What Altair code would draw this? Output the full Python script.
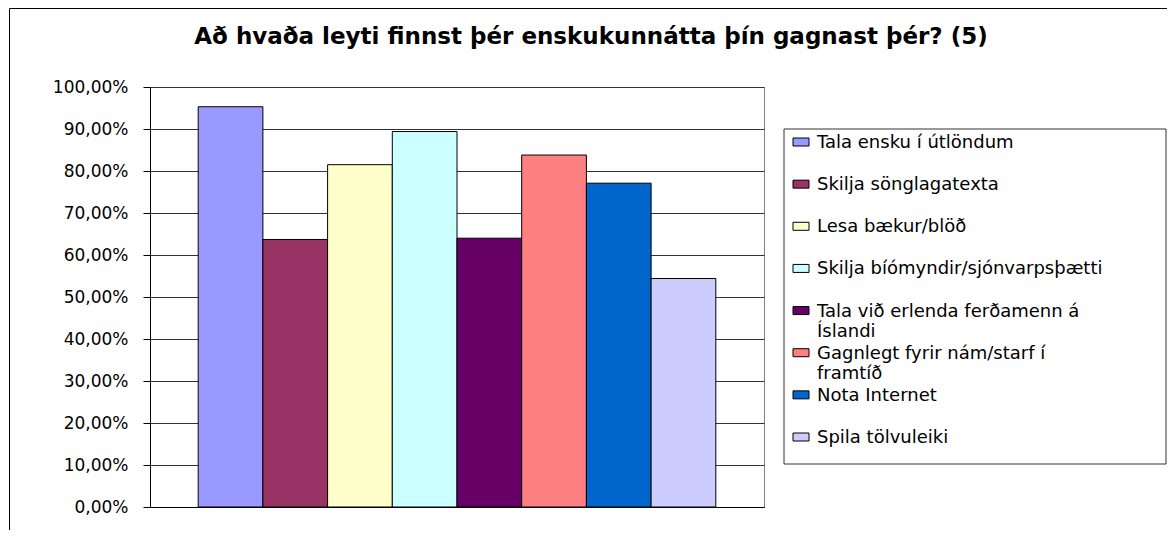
import altair as alt
import pandas as pd

title_text = "Að hvaða leyti finnst þér enskukunnátta þín gagnast þér? (5)"

categories = [
    "Tala ensku í útlöndum",
    "Skilja sönglagatexta",
    "Lesa bækur/blöð",
    "Skilja bíómyndir/sjónvarpsþætti",
    "Tala við erlenda ferðamenn á Íslandi",
    "Gagnlegt fyrir nám/starf í framtíð",
    "Nota Internet",
    "Spila tölvuleiki",
]
values = [0.953, 0.637, 0.815, 0.894, 0.640, 0.838, 0.771, 0.544]
legend_labels = [
    "Tala ensku í útlöndum",
    "Skilja sönglagatexta",
    "Lesa bækur/blöð",
    "Skilja bíómyndir/sjónvarpsþætti",
    "Tala við erlenda ferðamenn á\nÍslandi",
    "Gagnlegt fyrir nám/starf í\nframtíð",
    "Nota Internet",
    "Spila tölvuleiki",
]
colors = ["#9999FF", "#993366", "#FFFFCC", "#CCFFFF", "#660066", "#FF8080", "#0066CC", "#CCCCFF"]
y_ticks = [0.0, 0.1, 0.2, 0.3, 0.4, 0.5, 0.6, 0.7, 0.8, 0.9, 1.0]

df = pd.DataFrame({"cat": categories, "value": values})
leg_df = pd.DataFrame({"cat": categories, "label": legend_labels})
deco = pd.DataFrame({"t": [title_text]})

color_scale = alt.Scale(domain=categories, range=colors)

bars = alt.Chart(df).mark_bar(stroke="black", strokeWidth=1).encode(
    x=alt.X("cat:N", sort=categories,
            scale=alt.Scale(paddingInner=0, paddingOuter=0.745),
            axis=alt.Axis(title=None, labels=False, ticks=False, domainColor="black")),
    y=alt.Y("value:Q", scale=alt.Scale(domain=[0, 1], nice=False),
            axis=alt.Axis(values=y_ticks, title=None, tickSize=7, labelPadding=15,
                          labelExpr="replace(format(datum.value, '.2%'), '.', ',')",
                          labelFont="DejaVu Sans", labelFontSize=17, labelColor="black",
                          domainColor="black", tickColor="black",
                          grid=True, gridColor="#333333")),
    fill=alt.Fill("cat:N", scale=color_scale, legend=None),
)

ly = alt.Y("cat:N", sort=categories,
           scale=alt.Scale(type="point", domain=categories, range=[55, 350], padding=0),
           axis=None)

leg_box = alt.Chart(deco).mark_rect(fillOpacity=0, stroke="#333333", strokeWidth=1).encode(
    x=alt.value(634), x2=alt.value(1016), y=alt.value(42), y2=alt.value(377))

leg_sym = alt.Chart(leg_df).mark_point(
    shape="M-1,-0.5H1V0.5H-1Z", filled=True, size=256, stroke="black",
    strokeWidth=1, opacity=1).encode(
    x=alt.value(651), y=ly,
    fill=alt.Fill("cat:N", scale=color_scale, legend=None))

leg_txt = alt.Chart(leg_df).mark_text(
    align="left", baseline="alphabetic", dy=6, lineBreak="\n",
    font="DejaVu Sans", fontSize=18, lineHeight=20.5, color="black").encode(
    x=alt.value(667), y=ly, text="label:N")

title = alt.Chart(deco).mark_text(
    font="DejaVu Sans", fontWeight="bold", fontSize=23, align="center",
    baseline="middle", color="black").encode(
    x=alt.value(441), y=alt.value(-50), text="t:N")

border_left = alt.Chart(deco).mark_rule(color="black", strokeWidth=1).encode(
    x=alt.value(-140.5), y=alt.value(-78.5), y2=alt.value(450))
border_top = alt.Chart(deco).mark_rule(color="black", strokeWidth=1).encode(
    x=alt.value(-140.5), x2=alt.value(1020), y=alt.value(-78.5))

chart = alt.layer(bars, leg_box, leg_sym, leg_txt, title, border_left, border_top).resolve_scale(
    y="independent", fill="shared"
).properties(
    width=614, height=420,
    autosize=alt.AutoSizeParams(type="none"),
    padding={"left": 142, "top": 79, "right": 403, "bottom": 23},
).configure_view(stroke="#808080", strokeWidth=1)

chart.save("out.html", embed_options={"renderer": "svg", "actions": False})
